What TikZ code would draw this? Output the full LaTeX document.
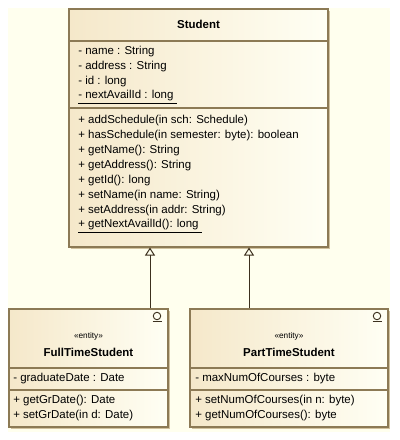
\documentclass[tikz,border=0pt]{standalone}
\usepackage{fontspec}
\setmainfont{Liberation Sans}
\usetikzlibrary{arrows.meta, fit, shadows}

\definecolor{canvas}{RGB}{255,255,238}
\definecolor{boxleft}{RGB}{245,232,202}
\definecolor{boxright}{RGB}{255,255,244}
\definecolor{edge}{RGB}{140,122,85}
\definecolor{shade}{RGB}{210,194,158}
\definecolor{wire}{RGB}{60,48,30}

\begin{document}
\begin{tikzpicture}[x=0.75pt, y=-0.75pt,
        cls/.style={rectangle, draw=edge, line width=0.8pt, inner sep=0pt,
                    left color=boxleft, right color=boxright,
                    drop shadow={shadow xshift=1.5pt, shadow yshift=-1.5pt,
                                 fill=shade, opacity=1}},
        sep/.style={draw=edge, line width=0.8pt},
        txt/.style={anchor=west, inner sep=0pt, font=\fontsize{8.6}{10}\selectfont},
        ttl/.style={inner sep=0pt, font=\fontsize{8.6}{10}\selectfont\bfseries},
        ster/.style={inner sep=0pt, font=\fontsize{6.2}{7}\selectfont},
        gen/.style={-{Triangle[open, length=6pt, width=7.5pt]}, wire, line width=0.75pt}]
      \useasboundingbox (0,0) rectangle (400,440);
      \fill[canvas] (8,8) rectangle (390,432);

      % classes
      \node[cls, fit={(69,9) (328,247)}] (st) {};
      \node[cls, fit={(9,309) (168,427)}] (ft) {};
      \node[cls, fit={(190,309) (388,427)}] (pt) {};

      % Student
      \node[ttl] (stname) at (198.5,24) {Student};
      \draw[sep] (st.west |- 0,41) -- (st.east |- 0,41);
      \draw[sep] (st.west |- 0,108) -- (st.east |- 0,108);
      \foreach \t [count=\i] in {- name : String, - address : String, - id : long}
        \node[txt] at (78,37+15*\i) {\t};
      \node[txt] at (78,97) {\underline{- nextAvailId : long\ }};
      \foreach \t [count=\i] in {+ addSchedule(in sch: Schedule),
          + hasSchedule(in semester: byte): boolean, + getName(): String,
          + getAddress(): String, + getId(): long, + setName(in name: String),
          + setAddress(in addr: String)}
        \node[txt] at (78,106+15*\i) {\t};
      \node[txt] at (78,226) {\underline{+ getNextAvailId(): long\ }};

      % FullTimeStudent
      \node[ster] at (88.5,336) {<<entity>>};
      \node[ttl] (ftname) at (88.5,352) {FullTimeStudent};
      \draw[sep] (ft.west |- 0,368) -- (ft.east |- 0,368);
      \draw[sep] (ft.west |- 0,390) -- (ft.east |- 0,390);
      \node[txt] at (13,379) {- graduateDate : Date};
      \node[txt] at (13,401) {+ getGrDate(): Date};
      \node[txt] at (13,416) {+ setGrDate(in d: Date)};
      \draw[wire, line width=0.7pt] (157,316) circle[radius=2.8pt];
      \draw[wire, line width=0.7pt] (152.5,321.5) -- (161.5,321.5);

      % PartTimeStudent
      \node[ster] at (289,336) {<<entity>>};
      \node[ttl] (ptname) at (289,352) {PartTimeStudent};
      \draw[sep] (pt.west |- 0,368) -- (pt.east |- 0,368);
      \draw[sep] (pt.west |- 0,390) -- (pt.east |- 0,390);
      \node[txt] at (195,379) {- maxNumOfCourses : byte};
      \node[txt] at (195,401) {+ setNumOfCourses(in n: byte)};
      \node[txt] at (195,416) {+ getNumOfCourses(): byte};
      \draw[wire, line width=0.7pt] (377,316) circle[radius=2.8pt];
      \draw[wire, line width=0.7pt] (372.5,321.5) -- (381.5,321.5);

      % generalisation
      \coordinate (ja) at (150,0);
      \coordinate (jb) at (249,0);
      \draw[gen] (ft.north -| ja) -- (st.south -| ja);
      \draw[gen] (pt.north -| jb) -- (st.south -| jb);
    \end{tikzpicture}
\end{document}
